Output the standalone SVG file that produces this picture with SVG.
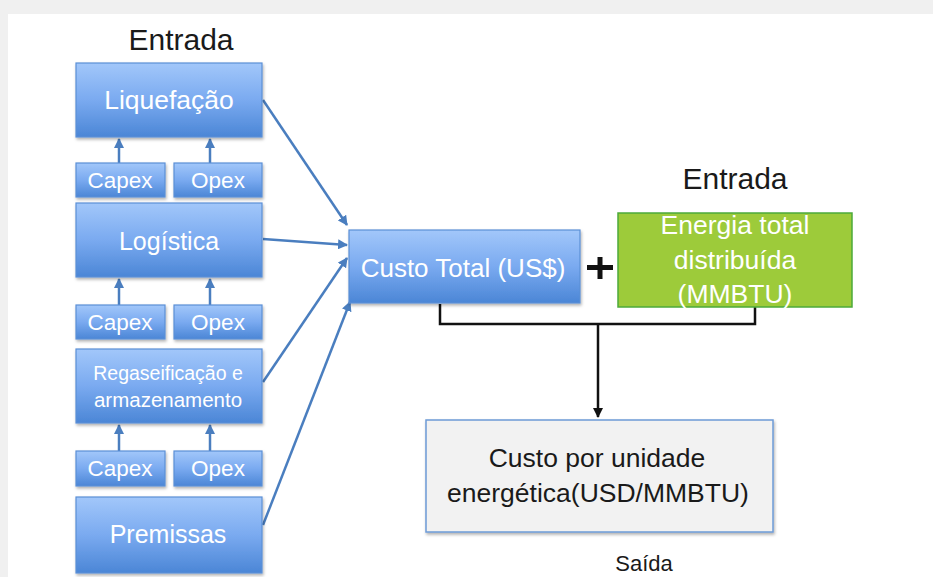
<svg xmlns="http://www.w3.org/2000/svg" width="933" height="577" viewBox="0 0 933 577">
<defs>
<linearGradient id="blue" x1="0" y1="0" x2="0" y2="1">
<stop offset="0" stop-color="#a2c7fa"/>
<stop offset="0.5" stop-color="#7aaaf0"/>
<stop offset="1" stop-color="#4b86d6"/>
</linearGradient>
<filter id="sh" x="-10%" y="-10%" width="120%" height="130%">
<feDropShadow dx="1" dy="2" stdDeviation="1.5" flood-color="#000" flood-opacity="0.3"/>
</filter>
<marker id="ab" viewBox="0 0 10 10" refX="9" refY="5" markerWidth="4" markerHeight="4" orient="auto-start-reverse">
<path d="M0,0 L10,5 L0,10 z" fill="#4a7ebf"/>
</marker>
<marker id="ak" viewBox="0 0 10 10" refX="9" refY="5" markerWidth="4" markerHeight="4" orient="auto">
<path d="M0,0 L10,5 L0,10 z" fill="#111"/>
</marker>
</defs>
<style>
.b{fill:url(#blue);stroke:#5b8fd6;stroke-width:1.2;filter:url(#sh)}
.wt{fill:#fff;font-family:"Liberation Sans",Arial,sans-serif;text-anchor:middle}
.dk{fill:#1a1a1a;font-family:"Liberation Sans",Arial,sans-serif;text-anchor:middle}
.cb{stroke:#4a7ebf;stroke-width:2.5;fill:none;marker-end:url(#ab)}
.ck{stroke:#111;stroke-width:2.5;fill:none}
</style>
<rect x="0" y="0" width="933" height="577" fill="#f0f0f0"/>
<rect x="8" y="14" width="925" height="563" fill="#fff"/>

<text class="dk" x="181" y="50" font-size="30">Entrada</text>
<text class="dk" x="735" y="189" font-size="30">Entrada</text>
<text class="dk" x="644" y="571" font-size="22">Saída</text>

<g id="connectors">
<line class="cb" x1="119" y1="163" x2="119" y2="139"/>
<line class="cb" x1="210" y1="163" x2="210" y2="139"/>
<line class="cb" x1="119" y1="305" x2="119" y2="279"/>
<line class="cb" x1="210" y1="305" x2="210" y2="279"/>
<line class="cb" x1="119" y1="451" x2="119" y2="425"/>
<line class="cb" x1="210" y1="451" x2="210" y2="425"/>
<line class="cb" x1="263" y1="100" x2="347" y2="225"/>
<line class="cb" x1="263" y1="239" x2="347" y2="245"/>
<line class="cb" x1="263" y1="382" x2="347" y2="258"/>
<line class="cb" x1="263" y1="525" x2="350" y2="302"/>
<path class="ck" d="M440,304 V324 H755 V307"/>
<line class="ck" x1="598" y1="324" x2="598" y2="417" marker-end="url(#ak)"/>
<rect x="587" y="265" width="26" height="5" fill="#111"/>
<rect x="597.5" y="257" width="5" height="22" fill="#111"/>
</g>

<g id="liquefacao"><rect class="b" x="76" y="63" width="186" height="74"/><text class="wt" x="169" y="109" font-size="26.5">Liquefação</text></g>
<g id="capex1"><rect class="b" x="76" y="163" width="89" height="34"/><text class="wt" x="120" y="188" font-size="22.5">Capex</text></g>
<g id="opex1"><rect class="b" x="174" y="163" width="88" height="34"/><text class="wt" x="218" y="188" font-size="22.5">Opex</text></g>
<g id="logistica"><rect class="b" x="76" y="203" width="186" height="74"/><text class="wt" x="169" y="250" font-size="25">Logística</text></g>
<g id="capex2"><rect class="b" x="76" y="305" width="89" height="34"/><text class="wt" x="120" y="330" font-size="22.5">Capex</text></g>
<g id="opex2"><rect class="b" x="174" y="305" width="88" height="34"/><text class="wt" x="218" y="330" font-size="22.5">Opex</text></g>
<g id="regaseificacao"><rect class="b" x="76" y="349" width="186" height="74"/><text class="wt" x="168" y="380" font-size="19.5">Regaseificação e</text><text class="wt" x="168" y="407" font-size="20.5">armazenamento</text></g>
<g id="capex3"><rect class="b" x="76" y="451" width="89" height="35"/><text class="wt" x="120" y="476" font-size="22.5">Capex</text></g>
<g id="opex3"><rect class="b" x="174" y="451" width="88" height="35"/><text class="wt" x="218" y="476" font-size="22.5">Opex</text></g>
<g id="premissas"><rect class="b" x="76" y="497" width="186" height="76"/><text class="wt" x="168" y="543" font-size="25">Premissas</text></g>
<g id="custo-total"><rect class="b" x="349" y="230" width="231" height="73"/><text class="wt" x="463" y="277" font-size="26">Custo Total (US$)</text></g>
<g id="energia"><rect x="618" y="213" width="234" height="94" fill="#9dcb3a" stroke="#4caa3a" stroke-width="1.5"/>
<text class="wt" x="735" y="234" font-size="26.5">Energia total</text>
<text class="wt" x="735" y="269" font-size="26.5">distribuída</text>
<text class="wt" x="735" y="303" font-size="26.5">(MMBTU)</text></g>
<g id="custo-unidade"><rect x="426" y="420" width="347" height="112" fill="#f2f2f2" stroke="#6d9bd6" stroke-width="1.5" filter="url(#sh)"/>
<text class="dk" x="597" y="467" font-size="26.5">Custo por  unidade</text>
<text class="dk" x="598" y="502" font-size="26.5">energética(USD/MMBTU)</text></g>
</svg>
